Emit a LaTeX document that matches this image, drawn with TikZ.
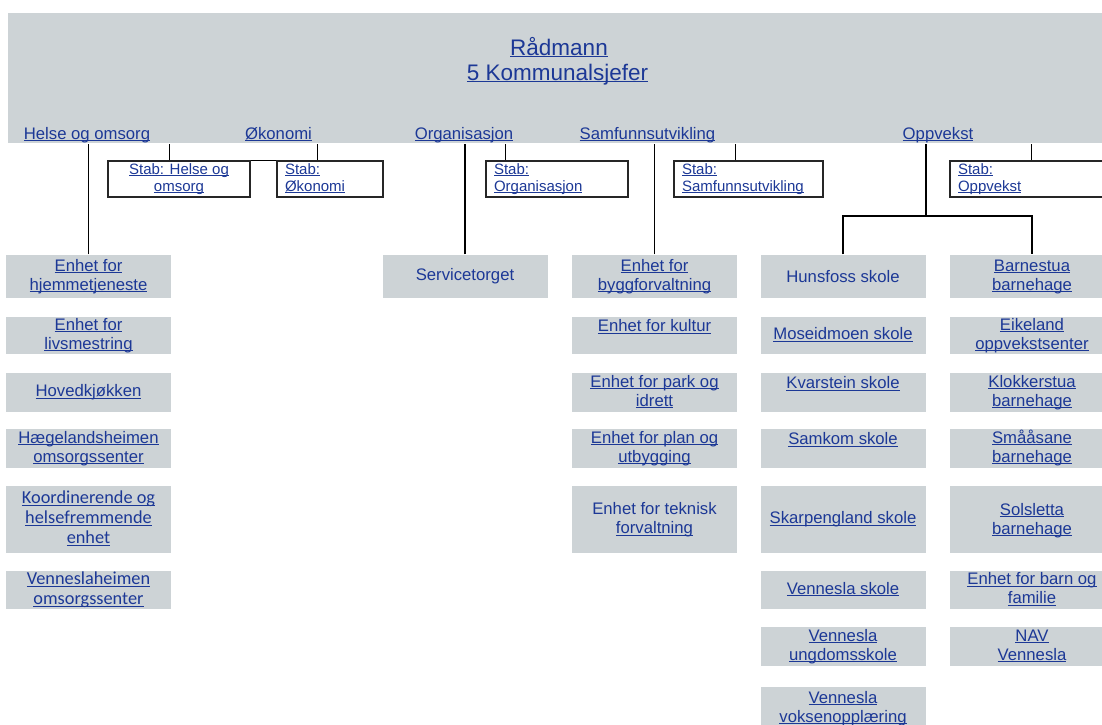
\documentclass[tikz,border=0pt]{standalone}
\usepackage{fontspec}
\setsansfont{Liberation Sans}
\newfontfamily\calfont{Carlito}

\definecolor{linkblue}{RGB}{28,56,150}
\definecolor{boxgray}{RGB}{205,211,214}
\newcommand{\lnk}[1]{\underline{\smash{#1}}\vphantom{Hg}}

\begin{document}
\begin{tikzpicture}[x=1pt,y=-1pt,line width=1.3pt,
        font=\sffamily\fontsize{16.7}{19}\selectfont,
        unit node/.style={fill=boxgray,text=linkblue,align=center,inner sep=0pt,
            minimum width=165pt,minimum height=#1},
        unit node/.default=39pt,
        stab node/.style={draw=black!85,fill=white,text=linkblue,inner sep=0pt,
            minimum height=36pt,font=\sffamily\fontsize{15}{17}\selectfont},
        head node/.style={text=linkblue,anchor=base},
        kf/.style={font=\calfont\fontsize{18.3}{20}\selectfont}]

    \useasboundingbox (0,0) rectangle (1102,724);
    \clip (0,0) rectangle (1102,724);

    % top band
    \node[fill=boxgray,inner sep=0pt,minimum width=1110pt,minimum height=130pt] (band) at (563,78) {};
    \node[head node,font=\sffamily\fontsize{22.5}{25}\selectfont] (radmann) at (559,55) {\lnk{Rådmann}};
    \node[head node,font=\sffamily\fontsize{22.5}{25}\selectfont] (ksjef) at (557.5,80) {\lnk{5 Kommunalsjefer}};

    \node[head node] (helse) at (87,139) {\lnk{Helse og omsorg}};
    \node[head node] (okonomi) at (278.5,139) {\lnk{Økonomi}};
    \node[head node] (org) at (464,139) {\lnk{Organisasjon}};
    \node[head node] (samf) at (647.5,139) {\lnk{Samfunnsutvikling}};
    \node[head node] (oppv) at (938,139) {\lnk{Oppvekst}};

    % stab
    \node[stab node,minimum width=142pt,align=center] (stabhelse) at (179,179) {\lnk{Stab: Helse og}\\\lnk{omsorg}};
    \node[stab node,minimum width=106pt,text width=90pt,align=left] (stabokon) at (330,179) {\lnk{Stab:}\\\lnk{Økonomi}};
    \node[stab node,minimum width=142pt,text width=126pt,align=left] (staborg) at (557,179) {\lnk{Stab:}\\\lnk{Organisasjon}};
    \node[stab node,minimum width=149pt,text width=133pt,align=left] (stabsamf) at (748.5,179) {\lnk{Stab:}\\\lnk{Samfunnsutvikling}};
    \node[stab node,minimum width=170pt,text width=154pt,align=left] (stabopp) at (1035,179) {\lnk{Stab:}\\\lnk{Oppvekst}};

    % helse og omsorg
    \node[unit node=43pt] (hjem) at (88.5,276.5) {\lnk{Enhet for}\\\lnk{hjemmetjeneste}};
    \node[unit node=37pt] (livs) at (88.5,335.5) {\lnk{Enhet for}\\\lnk{livsmestring}};
    \node[unit node] (hoved) at (88.5,392.5) {\lnk{Hovedkjøkken}};
    \node[unit node] (haeg) at (88.5,448.5) {\lnk{Hægelandsheimen}\\\lnk{omsorgssenter}};
    \node[unit node=67pt,kf] (koord) at (88.5,519.5) {\lnk{Koordinerende og}\\\lnk{helsefremmende}\\\lnk{enhet}};
    \node[unit node=38pt,kf] (venhj) at (88.5,590) {\lnk{Venneslaheimen}\\\lnk{omsorgssenter}};

    % organisasjon
    \node[unit node=43pt] (service) at (465,276.5) {Servicetorget};

    % samfunnsutvikling
    \node[unit node=43pt] (bygg) at (654.5,276.5) {\lnk{Enhet for}\\\lnk{byggforvaltning}};
    \node[unit node=37pt] (kultur) at (654.5,335.5) {\lnk{Enhet for kultur}\\\mbox{}};
    \node[unit node] (park) at (654.5,392.5) {\lnk{Enhet for park og}\\\lnk{idrett}};
    \node[unit node] (plan) at (654.5,448.5) {\lnk{Enhet for plan og}\\\lnk{utbygging}};
    \node[unit node=67pt] (teknisk) at (654.5,519.5) {Enhet for teknisk\\\lnk{forvaltning}};

    % oppvekst, skoler
    \node[unit node=43pt] (hunsfoss) at (843,276.5) {Hunsfoss skole};
    \node[unit node=37pt] (moseid) at (843,335.5) {\lnk{Moseidmoen skole}};
    \node[unit node] (kvarstein) at (843,392.5) {\lnk{Kvarstein skole}\\\mbox{}};
    \node[unit node] (samkom) at (843,448.5) {\lnk{Samkom skole}\\\mbox{}};
    \node[unit node=67pt] (skarp) at (843,519.5) {\lnk{Skarpengland skole}};
    \node[unit node=38pt] (venskole) at (843,590) {\lnk{Vennesla skole}};
    \node[unit node] (ungdom) at (843,646.5) {\lnk{Vennesla}\\\lnk{ungdomsskole}};
    \node[unit node=43pt] (voksen) at (843,708.5) {\lnk{Vennesla}\\\lnk{voksenopplæring}};

    % oppvekst, barnehager
    \node[unit node=43pt] (barnestua) at (1032,276.5) {\lnk{Barnestua}\\\lnk{barnehage}};
    \node[unit node=37pt] (eikeland) at (1032,335.5) {\lnk{Eikeland}\\\lnk{oppvekstsenter}};
    \node[unit node] (klokker) at (1032,392.5) {\lnk{Klokkerstua}\\\lnk{barnehage}};
    \node[unit node] (smaa) at (1032,448.5) {\lnk{Smååsane}\\\lnk{barnehage}};
    \node[unit node=67pt] (sols) at (1032,519.5) {\mbox{}\\[-5pt]\lnk{Solsletta}\\\lnk{barnehage}};
    \node[unit node=38pt] (barnfam) at (1032,590) {\lnk{Enhet for barn og}\\\lnk{familie}};
    \node[unit node] (nav) at (1032,646.5) {\lnk{NAV}\\\lnk{Vennesla}};

    % lines
    \draw (hjem.north) -- (hjem.north |- band.south);
    \draw (service.north) -- (service.north |- band.south);
    \draw (bygg.north) -- (bygg.north |- band.south);

    \coordinate (oppjoin) at (926,216);
    \draw (oppjoin) -- (oppjoin |- band.south);
    \draw (hunsfoss.north) |- (oppjoin) -| (barnestua.north);

    \coordinate (sh) at ([xshift=62pt]stabhelse.north west);
    \coordinate (so) at ([xshift=41pt]stabokon.north west);
    \coordinate (sorg) at ([xshift=20pt]staborg.north west);
    \coordinate (ssamf) at ([xshift=62pt]stabsamf.north west);
    \coordinate (sopp) at ([xshift=82pt]stabopp.north west);
    \foreach \c in {sh,so,sorg,ssamf,sopp}
        \draw (\c) -- (\c |- band.south);
    \draw (stabhelse.north east) -- (stabokon.north west);
\end{tikzpicture}
\end{document}
